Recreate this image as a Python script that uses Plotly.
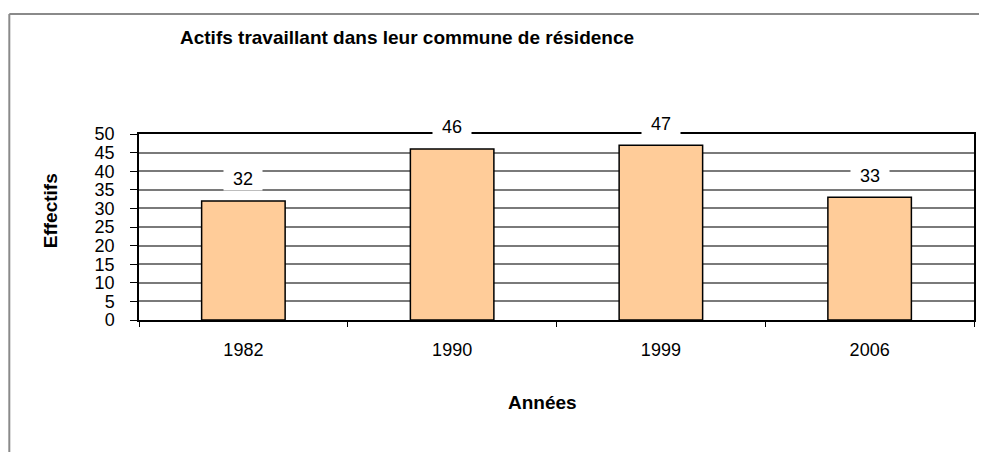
import plotly.graph_objects as go

categories = ["1982", "1990", "1999", "2006"]
values = [32, 46, 47, 33]
y_ticks = [0, 5, 10, 15, 20, 25, 30, 35, 40, 45, 50]

title_text = "Actifs travaillant dans leur commune de résidence"
x_title = "Années"
y_title = "Effectifs"

FONT = "Liberation Sans, Arial, sans-serif"

# page body has an 8px margin, so the figure is 8px smaller and margins shifted
OFF = 8
W, H = 987 - OFF, 452 - OFF
PL, PR, PT, PB = 139, 976, 134, 320  # plot area in page pixels
ML = PL - OFF
MR = W - (PR - OFF)
MT = PT - OFF
MB = H - (PB - OFF)
PW = PR - PL
PH = PB - PT


def px_x(px):
    return (px - PL) / PW


def px_y(py):
    return (PB - py) / PH


fig = go.Figure()
fig.add_trace(go.Bar(
    x=categories, y=values, width=0.4,
    marker=dict(color="#FFCC99", line=dict(color="#000000", width=1.5)),
    hoverinfo="x+y", showlegend=False,
))

annotations = []
for i, v in enumerate(values):
    annotations.append(dict(
        x=i, y=v, xref="x", yref="y", text=str(v), showarrow=False,
        xanchor="center", yanchor="middle", yshift=22, bgcolor="white", width=36, height=21,
        font=dict(family=FONT, size=18, color="black"),
    ))

annotations.append(dict(
    x=px_x(178), y=px_y(37), xref="paper", yref="paper", text="<b>" + title_text + "</b>",
    showarrow=False, xanchor="left", yanchor="middle",
    font=dict(family=FONT, size=19, color="black"),
))
annotations.append(dict(
    x=px_x(543), y=px_y(402), xref="paper", yref="paper", text="<b>" + x_title + "</b>",
    showarrow=False, xanchor="center", yanchor="middle",
    font=dict(family=FONT, size=19, color="black"),
))
annotations.append(dict(
    x=px_x(50), y=px_y(211), xref="paper", yref="paper", text="<b>" + y_title + "</b>",
    showarrow=False, xanchor="center", yanchor="middle", textangle=-90,
    font=dict(family=FONT, size=19, color="black"),
))

shapes = [
    dict(type="line", xref="paper", yref="paper", x0=px_x(9), x1=px_x(9), y0=px_y(14), y1=px_y(470),
         line=dict(color="#8a8a8a", width=2)),
    dict(type="line", xref="paper", yref="paper", x0=px_x(9), x1=px_x(1000), y0=px_y(14), y1=px_y(14),
         line=dict(color="#8a8a8a", width=2)),
]

fig.update_layout(
    width=W, height=H,
    margin=dict(l=ML, r=MR, t=MT, b=MB, pad=0),
    paper_bgcolor="white", plot_bgcolor="white",
    font=dict(family=FONT, size=18, color="black"),
    annotations=annotations, shapes=shapes,
)
fig.update_xaxes(
    type="category", categoryorder="array", categoryarray=categories,
    range=[-0.5, len(categories) - 0.5], autorange=False,
    showline=True, linecolor="black", linewidth=1.5, mirror=True,
    ticks="outside", tickson="boundaries", ticklen=5, tickcolor="black", tickwidth=1,
    showgrid=False, tickangle=0, tickfont=dict(family=FONT, size=18, color="black"),
    ticklabelstandoff=13,
)
fig.update_yaxes(
    range=[0, 50], autorange=False, tickvals=y_ticks, ticktext=[str(t) for t in y_ticks],
    showline=True, linecolor="black", linewidth=1.5, mirror=True,
    ticks="outside", ticklen=7, tickcolor="black", tickwidth=1,
    showgrid=True, gridcolor="#7a7a7a", gridwidth=1.5,
    zeroline=False, tickfont=dict(family=FONT, size=18, color="black"),
    ticklabelstandoff=12,
)

fig.write_html("out.html")
